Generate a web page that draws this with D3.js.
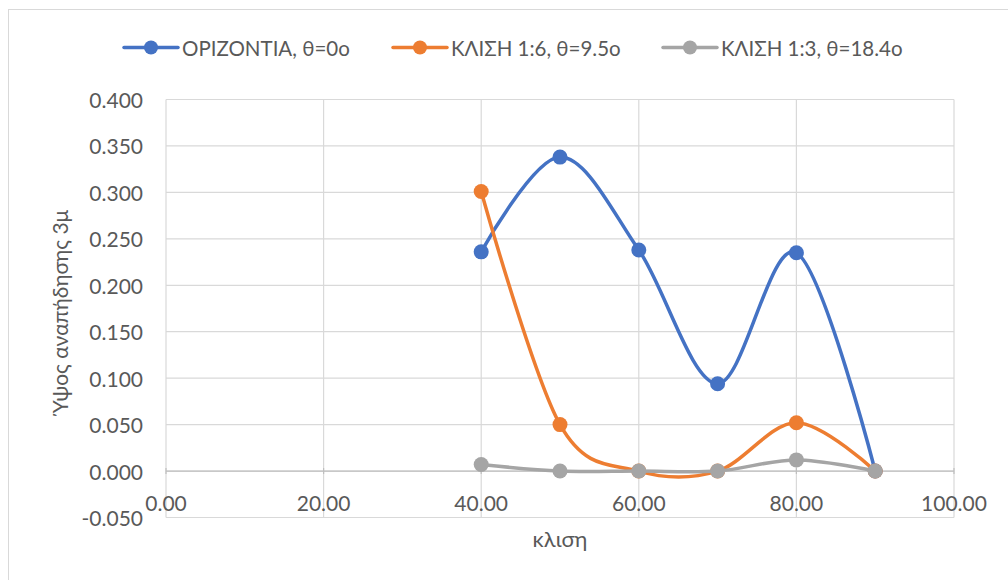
<!DOCTYPE html>
<html>
<head>
<meta charset="utf-8">
<script src="https://cdn.jsdelivr.net/npm/d3@7"></script>
<style>
  html, body { margin: 0; padding: 0; background: #fff; }
  svg { display: block; font-family: Lato, "Open Sans", sans-serif; }
</style>
</head>
<body>
<svg id="chart" width="1008" height="580"></svg>
<script>
// Slope angle values (x) shared by all series
const xValues = [40, 50, 60, 70, 80, 90];

// Rebound height per series
const seriesNames = ["ΟΡΙΖΟΝΤΙΑ, θ=0o", "ΚΛΙΣΗ 1:6, θ=9.5o", "ΚΛΙΣΗ 1:3, θ=18.4o"];
const horizontal = [0.236, 0.338, 0.238, 0.094, 0.235, 0.000];
const slope16    = [0.301, 0.050, 0.000, 0.000, 0.052, 0.000];
const slope13    = [0.007, 0.000, 0.000, 0.000, 0.012, 0.000];
const seriesColors = ["#4472C4", "#ED7D31", "#A5A5A5"];

// Axis ticks
const xTicks = [0, 20, 40, 60, 80, 100];
const yTicks = [-0.05, 0, 0.05, 0.10, 0.15, 0.20, 0.25, 0.30, 0.35, 0.40];

const xTitle = "κλιση";
const yTitle = "Ύψος αναπήδησης 3μ";

const svg = d3.select("#chart");
const W = 1008, H = 580;
const plot = { left: 166, right: 954, top: 99.5, bottom: 517.5 };

const x = d3.scaleLinear().domain([0, 100]).range([plot.left, plot.right]);
const y = d3.scaleLinear().domain([-0.05, 0.40]).range([plot.bottom, plot.top]);

const textColor = "#595959";
const gridColor = "#d9d9d9";

// Chart area frame
svg.append("rect")
  .attr("x", 8.5).attr("y", 9.5)
  .attr("width", W + 20).attr("height", H + 20)
  .attr("fill", "#fff").attr("stroke", gridColor).attr("stroke-width", 1);

// Gridlines
const grid = svg.append("g").attr("stroke", gridColor).attr("stroke-width", 1.2);
grid.selectAll(".hg").data(yTicks).join("line")
  .attr("x1", plot.left).attr("x2", plot.right)
  .attr("y1", d => y(d)).attr("y2", d => y(d));
grid.selectAll(".vg").data(xTicks).join("line")
  .attr("y1", plot.top).attr("y2", plot.bottom)
  .attr("x1", d => x(d)).attr("x2", d => x(d));

// Horizontal axis line at y = 0 with cross tick marks
const axisColor = "#bfbfbf";
svg.append("line")
  .attr("x1", plot.left).attr("x2", plot.right)
  .attr("y1", y(0)).attr("y2", y(0))
  .attr("stroke", axisColor).attr("stroke-width", 1.2);
svg.append("g").selectAll("line").data(xTicks).join("line")
  .attr("x1", d => x(d)).attr("x2", d => x(d))
  .attr("y1", y(0) - 3).attr("y2", y(0) + 3)
  .attr("stroke", axisColor).attr("stroke-width", 1.2);

// Y tick labels
svg.append("g").selectAll("text").data(yTicks).join("text")
  .attr("x", 143).attr("y", d => y(d))
  .attr("text-anchor", "end").attr("dominant-baseline", "central")
  .attr("fill", textColor).attr("font-size", 21)
  .text(d => d.toFixed(3));

// X tick labels
svg.append("g").selectAll("text").data(xTicks).join("text")
  .attr("x", d => x(d)).attr("y", 502.5)
  .attr("text-anchor", "middle").attr("dominant-baseline", "central")
  .attr("fill", textColor).attr("font-size", 21)
  .text(d => d.toFixed(2));

// Axis titles
svg.append("text")
  .attr("x", (plot.left + plot.right) / 2).attr("y", 547)
  .attr("text-anchor", "middle").attr("fill", textColor).attr("font-size", 22)
  .text(xTitle);
svg.append("text")
  .attr("transform", `translate(68, ${(plot.top + plot.bottom) / 2 + 3}) rotate(-90)`)
  .attr("text-anchor", "middle").attr("fill", textColor).attr("font-size", 21)
  .text(yTitle);

// Series lines and markers (smoothed)
const allSeries = [horizontal, slope16, slope13];
const line = d3.line()
  .x((d, i) => x(xValues[i]))
  .y(d => y(d))
  .curve(d3.curveCardinal.tension(0));

allSeries.forEach((vals, si) => {
  const g = svg.append("g");
  g.append("path").datum(vals)
    .attr("d", line)
    .attr("fill", "none")
    .attr("stroke", seriesColors[si])
    .attr("stroke-width", 3.5)
    .attr("stroke-linecap", "round")
    .attr("stroke-linejoin", "round");
  g.selectAll("circle").data(vals).join("circle")
    .attr("cx", (d, i) => x(xValues[i]))
    .attr("cy", d => y(d))
    .attr("r", 7.5)
    .attr("fill", seriesColors[si]);
});

// Legend
const legendX = [124, 393, 663];
const legend = svg.append("g");
seriesNames.forEach((name, i) => {
  const lg = legend.append("g").attr("transform", `translate(${legendX[i]}, 47.5)`);
  lg.append("line").attr("x1", 0).attr("x2", 54).attr("y1", 0).attr("y2", 0)
    .attr("stroke", seriesColors[i]).attr("stroke-width", 3.5).attr("stroke-linecap", "round");
  lg.append("circle").attr("cx", 27).attr("cy", 0).attr("r", 7).attr("fill", seriesColors[i]);
  lg.append("text").attr("x", 58).attr("y", 0)
    .attr("dominant-baseline", "central")
    .attr("fill", textColor).attr("font-size", 20.5)
    .text(name);
});
</script>
</body>
</html>
